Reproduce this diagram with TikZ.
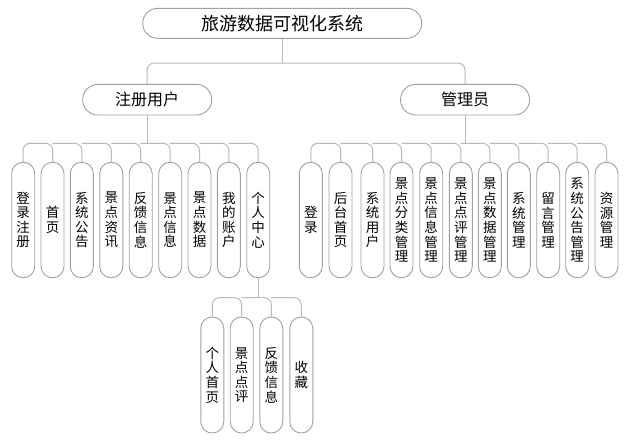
\documentclass[tikz,border=0pt]{standalone}
\usepackage{fontspec}
\setmainfont{Noto Sans CJK SC}
\definecolor{boxgray}{RGB}{160,160,160}
\definecolor{conngray}{RGB}{185,185,185}
\begin{document}
\begin{tikzpicture}[x=1pt,y=-1pt,
  conn/.style={draw=conngray, line width=1pt, rounded corners=7pt},
  capsule/.style={draw=boxgray, fill=white, line width=0.9pt, inner sep=0pt, align=center, text=black},
  topbox/.style={capsule, rounded corners=14.9pt, minimum width=279pt, minimum height=30pt, font=\fontsize{18}{20}\selectfont},
  midbox/.style={capsule, rounded corners=15.2pt, minimum width=129pt, minimum height=30.6pt, font=\fontsize{16}{18}\selectfont},
  vbox/.style={capsule, rounded corners=11.4pt, minimum width=23pt, minimum height=115.5pt, font=\fontsize{13.5}{14.6}\selectfont}
]
\useasboundingbox (0,0) rectangle (631,445);

% bar levels
\coordinate (bar0) at (0,63);
\coordinate (bar1) at (0,143.3);
\coordinate (bar2) at (0,297.7);

% nodes
\node[topbox] (root) at (282.2,23.3) {旅游数据可视化系统};
\node[midbox] (user) at (147.2,99.7) {注册用户};
\node[midbox] (admin) at (465,99.7) {管理员};

\node[vbox] (u1) at (23.2,220) {登\\录\\注\\册};
\node[vbox] (u2) at (52.5,220) {首\\页};
\node[vbox] (u3) at (81.8,220) {系\\统\\公\\告};
\node[vbox] (u4) at (111.3,220) {景\\点\\资\\讯};
\node[vbox] (u5) at (140.7,220) {反\\馈\\信\\息};
\node[vbox] (u6) at (170.2,220) {景\\点\\信\\息};
\node[vbox] (u7) at (199.5,220) {景\\点\\数\\据};
\node[vbox] (u8) at (228.8,220) {我\\的\\账\\户};
\node[vbox] (u9) at (258.2,220) {个\\人\\中\\心};

\node[vbox] (a1) at (310.8,220) {登\\录};
\node[vbox] (a2) at (340.5,220) {后\\台\\首\\页};
\node[vbox] (a3) at (372.5,220) {系\\统\\用\\户};
\node[vbox] (a4) at (401.5,220) {景\\点\\分\\类\\管\\理};
\node[vbox] (a5) at (431.2,220) {景\\点\\信\\息\\管\\理};
\node[vbox] (a6) at (460.8,220) {景\\点\\点\\评\\管\\理};
\node[vbox] (a7) at (489.8,220) {景\\点\\数\\据\\管\\理};
\node[vbox] (a8) at (518.8,220) {系\\统\\管\\理};
\node[vbox] (a9) at (548.2,220) {留\\言\\管\\理};
\node[vbox] (a10) at (577.2,220) {系\\统\\公\\告\\管\\理};
\node[vbox] (a11) at (606.5,220) {资\\源\\管\\理};

\node[vbox, minimum height=116pt] (p1) at (212.3,375) {个\\人\\首\\页};
\node[vbox, minimum height=116pt] (p2) at (241.7,375) {景\\点\\点\\评};
\node[vbox, minimum height=116pt] (p3) at (271.3,375) {反\\馈\\信\\息};
\node[vbox, minimum height=116pt] (p4) at (301.3,375) {收\\藏};

% connectors: top level
\draw[conn] (root.south) -- (root.south |- bar0);
\draw[conn] (user.north) -- (user.north |- bar0) -- (admin.north |- bar0) -- (admin.north);

% user group
\draw[conn] (user.south) -- (user.south |- bar1);
\draw[conn] (u1.north) -- (u1.north |- bar1) -- (u2.north |- bar1) -- (u2.north);
\foreach \a/\b in {u2/u3,u3/u4,u4/u5,u5/u6,u6/u7,u7/u8,u8/u9}
  \draw[conn] (\a.north |- bar1) -- (\b.north |- bar1) -- (\b.north);

% admin group
\draw[conn] (admin.south) -- (admin.south |- bar1);
\draw[conn] (a1.north) -- (a1.north |- bar1) -- (a2.north |- bar1) -- (a2.north);
\foreach \a/\b in {a2/a3,a3/a4,a4/a5,a5/a6,a6/a7,a7/a8,a8/a9,a9/a10,a10/a11}
  \draw[conn] (\a.north |- bar1) -- (\b.north |- bar1) -- (\b.north);

% personal centre group
\draw[conn] (u9.south) -- (u9.south |- bar2);
\draw[conn] (p1.north) -- (p1.north |- bar2) -- (p2.north |- bar2) -- (p2.north);
\foreach \a/\b in {p2/p3,p3/p4}
  \draw[conn] (\a.north |- bar2) -- (\b.north |- bar2) -- (\b.north);
\end{tikzpicture}
\end{document}
